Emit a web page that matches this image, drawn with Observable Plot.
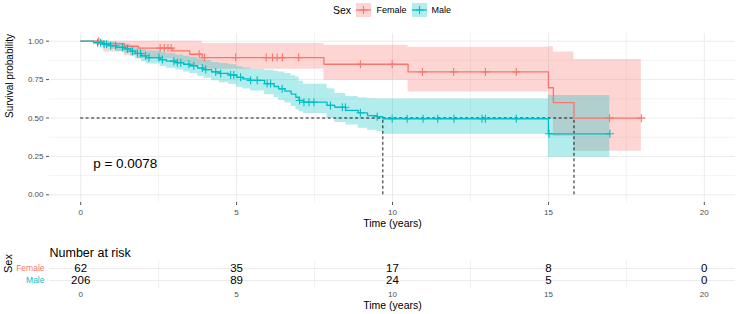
<!DOCTYPE html>
<html>
<head>
<meta charset="utf-8">
<script src="https://cdn.jsdelivr.net/npm/d3@7"></script>
<script src="https://cdn.jsdelivr.net/npm/@observablehq/plot@0.6"></script>
<style>
  body { margin: 0; background: #fff; font-family: "Liberation Sans", Arial, sans-serif; }
  #wrap { position: relative; width: 736px; height: 314px; overflow: hidden; background: #fff; }
  #legend { position: absolute; left: 0; top: 0; }
  #km { position: absolute; left: 0; top: 0; }
  #risk { position: absolute; left: 0; top: 232px; }
</style>
</head>
<body>
<div id="wrap">
  <div id="km"></div>
  <div id="risk"></div>
  <div id="legend"></div>
</div>
<script>
// Kaplan–Meier estimates by sex: step times, survival and 95% confidence limits
const sexes = ["Female", "Male"];
const sexColors = ["#F8766D", "#00BFC4"];

const femaleTime  = [0, 0.74, 1.40, 1.85, 2.95, 3.50, 3.90, 7.80, 10.50, 15.00, 15.16, 15.82];
const femaleSurv  = [1, 0.984, 0.967, 0.955, 0.937, 0.915, 0.893, 0.850, 0.800, 0.697, 0.600, 0.499];
const femaleLower = [1, 0.930, 0.905, 0.885, 0.862, 0.840, 0.817, 0.745, 0.669, 0.500, 0.380, 0.283];
const femaleUpper = [1, 1, 1, 1, 1, 1, 0.985, 0.974, 0.960, 0.963, 0.930, 0.880];
const femaleCensor = [0.58, 2.55, 2.68, 2.80, 2.90, 3.80, 3.97, 4.97, 5.95, 6.15, 6.30, 6.47, 6.99,
                      8.97, 9.99, 10.96, 11.96, 12.98, 13.97, 16.96, 17.98];

const maleTime  = [0, 0.42, 0.70, 0.95, 1.15, 1.40, 1.60, 1.75, 1.95, 2.10, 2.55, 2.75, 3.05, 3.30,
                   3.50, 3.75, 3.95, 4.20, 4.45, 4.75, 5.00, 5.20, 5.45, 5.90, 6.20, 6.35, 6.55,
                   6.75, 6.90, 7.00, 7.15, 7.90, 8.15, 8.50, 8.90, 9.20, 9.50, 9.69, 15.00];
const maleSurv  = [1, 0.990, 0.980, 0.970, 0.960, 0.950, 0.935, 0.920, 0.905, 0.893, 0.880, 0.870,
                   0.860, 0.850, 0.840, 0.825, 0.815, 0.800, 0.790, 0.780, 0.765, 0.755, 0.745,
                   0.724, 0.705, 0.690, 0.675, 0.655, 0.635, 0.614, 0.603, 0.582, 0.570, 0.549,
                   0.534, 0.516, 0.508, 0.495, 0.397];
const maleLower = [1, 0.976, 0.961, 0.947, 0.933, 0.920, 0.902, 0.884, 0.866, 0.851, 0.836, 0.824,
                   0.812, 0.800, 0.788, 0.771, 0.759, 0.742, 0.730, 0.718, 0.700, 0.688, 0.676,
                   0.652, 0.631, 0.614, 0.597, 0.575, 0.553, 0.540, 0.530, 0.500, 0.470, 0.455,
                   0.434, 0.420, 0.410, 0.395, 0.244];
const maleUpper = [1, 1, 0.999, 0.993, 0.987, 0.980, 0.969, 0.957, 0.946, 0.936, 0.926, 0.918,
                   0.910, 0.902, 0.894, 0.882, 0.874, 0.862, 0.854, 0.846, 0.834, 0.826, 0.818,
                   0.810, 0.805, 0.800, 0.790, 0.775, 0.767, 0.740, 0.720, 0.690, 0.660, 0.640,
                   0.630, 0.626, 0.624, 0.624, 0.647];
const maleCensor = [0.54, 0.64, 0.75, 0.83, 0.96, 1.12, 1.34, 1.50, 1.66, 1.82, 1.92, 2.08, 2.19,
                    2.51, 2.62, 2.99, 3.10, 3.21, 3.47, 3.63, 3.90, 4.01, 4.33, 4.49, 4.81, 4.91,
                    5.13, 5.45, 5.66, 5.98, 6.09, 6.46, 7.02, 7.16, 7.32, 7.48, 8.01, 8.39, 8.49,
                    8.97, 9.51, 9.99, 10.47, 10.98, 11.45, 11.97, 12.87, 12.98, 13.97, 15.02, 16.97];

// Number at risk table
const riskTimes = [0, 5, 10, 15, 20];
const femaleAtRisk = [62, 35, 17, 8, 0];
const maleAtRisk = [206, 89, 24, 5, 0];

// Axis ticks and labels
const xTicks = [0, 5, 10, 15, 20];
const xMinor = [2.5, 7.5, 12.5, 17.5];
const yTicks = [0, 0.25, 0.5, 0.75, 1];
const yMinor = [0.125, 0.375, 0.625, 0.875];
const xLabel = "Time (years)";
const yLabel = "Survival probability";
const pValueText = "p = 0.0078";
const pValuePos = [0.4, 0.2];
const legendTitle = "Sex";
const riskTitle = "Number at risk";

const font = "'Liberation Sans', Arial, sans-serif";
const xDomain = [-1, 21];

function survAt(time, surv, t) {
  const i = d3.bisectRight(time, t) - 1;
  return surv[Math.max(i, 0)];
}

function curveRows(sex, time, surv, lower, upper, censor) {
  const end = d3.max(censor.concat(time));
  const rows = time.map((t, i) => ({sex, t, s: surv[i], lo: lower[i], hi: upper[i]}));
  rows.push({...rows[rows.length - 1], t: end});
  return rows;
}

const series = [
  {sex: "Female", time: femaleTime, surv: femaleSurv, lower: femaleLower, upper: femaleUpper, censor: femaleCensor},
  {sex: "Male", time: maleTime, surv: maleSurv, lower: maleLower, upper: maleUpper, censor: maleCensor}
];

const curves = series.flatMap(d => curveRows(d.sex, d.time, d.surv, d.lower, d.upper, d.censor));
const censored = series.flatMap(d => d.censor.map(t => ({sex: d.sex, t, s: survAt(d.time, d.surv, t)})));
const medians = series.map(d => ({sex: d.sex, t: d.time[d.surv.findIndex(s => s <= 0.5)], y0: 0, y1: 0.5}));
const medianLine = [{y: 0.5, x1: 0, x2: d3.max(medians, d => d.t)}];

const colorScale = {domain: sexes, range: sexColors};

const km = Plot.plot({
  width: 736,
  height: 232,
  marginLeft: 49,
  marginRight: 1,
  marginTop: 33,
  marginBottom: 30,
  style: {fontFamily: font, background: "transparent", overflow: "visible"},
  x: {domain: xDomain},
  y: {domain: [-0.05, 1.05]},
  color: colorScale,
  marks: [
    Plot.gridX(xMinor, {stroke: "#EBEBEB", strokeOpacity: 1, strokeWidth: 0.6}),
    Plot.gridY(yMinor, {stroke: "#EBEBEB", strokeOpacity: 1, strokeWidth: 0.6}),
    Plot.gridX(xTicks, {stroke: "#EBEBEB", strokeOpacity: 1, strokeWidth: 1}),
    Plot.gridY(yTicks, {stroke: "#EBEBEB", strokeOpacity: 1, strokeWidth: 1}),
    Plot.areaY(curves, {x: "t", y1: "lo", y2: "hi", z: "sex", fill: "sex", fillOpacity: 0.3, curve: "step-after"}),
    Plot.ruleY(medianLine, {y: "y", x1: "x1", x2: "x2", stroke: "black", strokeWidth: 0.9, strokeDasharray: "3,2.5"}),
    Plot.ruleX(medians, {x: "t", y1: "y0", y2: "y1", stroke: "black", strokeWidth: 0.9, strokeDasharray: "3,2.5"}),
    Plot.line(curves, {x: "t", y: "s", z: "sex", stroke: "sex", strokeWidth: 1.3, curve: "step-after"}),
    Plot.dot(censored, {x: "t", y: "s", stroke: "sex", symbol: "plus", r: 2.7, strokeWidth: 1.1}),
    Plot.text([pValueText], {x: () => pValuePos[0], y: () => pValuePos[1], text: d => d,
      textAnchor: "start", fontSize: 13.5, fill: "black"}),
    Plot.axisX({ticks: xTicks, tickSize: 3, tickPadding: 4, fontSize: 8, fill: "#4D4D4D", stroke: "#555", label: null}),
    Plot.axisY({ticks: yTicks, tickFormat: d3.format(".2f"), tickSize: 3, tickPadding: 3, fontSize: 8,
      fill: "#4D4D4D", stroke: "#555", label: null}),
    Plot.text([xLabel], {frameAnchor: "bottom", dy: 24, text: d => d, fontSize: 10.5, fill: "black"}),
    Plot.text([yLabel], {frameAnchor: "left", dx: -40, rotate: -90, text: d => d, fontSize: 10, fill: "black"})
  ]
});
document.getElementById("km").appendChild(km);

// Risk table rows
const riskRows = [
  ...riskTimes.map((t, i) => ({sex: "Female", t, n: femaleAtRisk[i]})),
  ...riskTimes.map((t, i) => ({sex: "Male", t, n: maleAtRisk[i]}))
];

const risk = Plot.plot({
  width: 736,
  height: 82,
  marginLeft: 49,
  marginRight: 1,
  marginTop: 29,
  marginBottom: 26,
  style: {fontFamily: font, background: "transparent", overflow: "visible"},
  x: {domain: xDomain},
  y: {type: "point", domain: sexes, range: [35.4, 48.2], padding: 0, axis: null},
  color: colorScale,
  marks: [
    Plot.gridX(xMinor, {stroke: "#EBEBEB", strokeOpacity: 1, strokeWidth: 0.8}),
    Plot.gridY(sexes, {stroke: "#EBEBEB", strokeOpacity: 1, strokeWidth: 1}),
    Plot.text(riskRows, {x: "t", y: "sex", text: d => String(d.n), fontSize: 11.5, fill: "black"}),
    Plot.text(sexes, {y: d => d, text: d => d, fill: d => d, frameAnchor: "left", dx: -5,
      textAnchor: "end", fontSize: 8.5}),
    Plot.text([legendTitle], {frameAnchor: "left", dx: -41, dy: -2, rotate: -90, text: d => d, fontSize: 11, fill: "black"}),
    Plot.text([riskTitle], {frameAnchor: "top-left", dy: -13.3, textAnchor: "start", text: d => d, fontSize: 12.5, fill: "black"}),
    Plot.axisX({ticks: xTicks, tickSize: 0, tickPadding: 2.5, fontSize: 8, fill: "#4D4D4D", label: null}),
    Plot.text([xLabel], {frameAnchor: "bottom", dy: 20.5, text: d => d, fontSize: 10.5, fill: "black"})
  ]
});
document.getElementById("risk").appendChild(risk);

// Legend: title plus one key per sex (band swatch, line and censor mark)
const legendKeys = [
  {sex: "Female", keyX: 356, labelX: 376.5},
  {sex: "Male", keyX: 412, labelX: 431.5}
];
const lg = d3.select("#legend").append("svg").attr("width", 736).attr("height", 22)
  .style("font-family", font);
lg.append("text").attr("x", 333).attr("y", 10).attr("dy", "0.35em")
  .attr("font-size", 10.5).attr("fill", "black").text(legendTitle);
legendKeys.forEach(k => {
  const c = sexColors[sexes.indexOf(k.sex)];
  const g = lg.append("g").attr("transform", `translate(${k.keyX},3)`);
  g.append("rect").attr("width", 15).attr("height", 14).attr("fill", c).attr("fill-opacity", 0.3);
  g.append("line").attr("x1", 0).attr("x2", 15).attr("y1", 7).attr("y2", 7).attr("stroke", c).attr("stroke-width", 1.3);
  g.append("path").attr("d", d3.symbol(d3.symbolPlus, 22)()).attr("transform", "translate(7.5,7)")
    .attr("fill", "none").attr("stroke", c).attr("stroke-width", 1.1);
  lg.append("text").attr("x", k.labelX).attr("y", 10).attr("dy", "0.35em")
    .attr("font-size", 9).attr("fill", "black").text(k.sex);
});
</script>
</body>
</html>
